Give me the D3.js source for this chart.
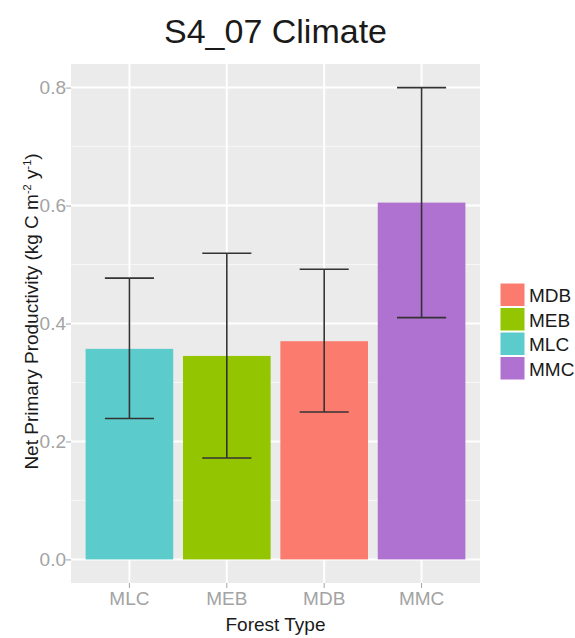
<!DOCTYPE html>
<html>
<head>
<meta charset="utf-8">
<script src="https://cdn.jsdelivr.net/npm/d3@7"></script>
<style>
  body { margin: 0; background: #fff; }
  svg { font-family: "Liberation Sans", Arial, sans-serif; }
  .tick-label { fill: #a3a3a3; font-size: 19px; }
  .axis-title { fill: #1a1a1a; font-size: 19px; }
</style>
</head>
<body>
<div class="container"></div>
<script>
// data
const categories = ["MLC", "MEB", "MDB", "MMC"];
const npp = [0.357, 0.345, 0.370, 0.605];
const errLow = [0.239, 0.172, 0.250, 0.410];
const errHigh = [0.477, 0.519, 0.492, 0.800];
const yTicks = [0.0, 0.2, 0.4, 0.6, 0.8];
const yMinor = [0.1, 0.3, 0.5, 0.7];
const legendOrder = ["MDB", "MEB", "MLC", "MMC"];
const colours = { MDB: "#fb7c6f", MEB: "#93c500", MLC: "#5bcbcb", MMC: "#b072d1" };

const width = 575, height = 638;
const plot = { left: 71, top: 64, right: 480, bottom: 583 };

const svg = d3.select(".container")
              .append("svg")
              .attr("width", width)
              .attr("height", height);

const xScale = d3.scaleBand()
                 .domain(categories)
                 .range([plot.left, plot.right])
                 .paddingInner(0.1)
                 .paddingOuter(0.15);

// ggplot style 5% expansion around 0..0.8
const yScale = d3.scaleLinear()
                 .domain([-0.04, 0.84])
                 .range([plot.bottom, plot.top]);

const xc = d => xScale(d) + xScale.bandwidth() / 2;

// panel
svg.append("rect")
   .attr("x", plot.left)
   .attr("y", plot.top)
   .attr("width", plot.right - plot.left)
   .attr("height", plot.bottom - plot.top)
   .attr("fill", "#ebebeb");

const grid = svg.append("g").attr("class", "grid");

grid.selectAll(".minor")
    .data(yMinor)
    .enter()
    .append("line")
    .attr("x1", plot.left).attr("x2", plot.right)
    .attr("y1", d => yScale(d)).attr("y2", d => yScale(d))
    .attr("stroke", "#f7f7f7")
    .attr("stroke-width", 1);

grid.selectAll(".major-y")
    .data(yTicks)
    .enter()
    .append("line")
    .attr("x1", plot.left).attr("x2", plot.right)
    .attr("y1", d => yScale(d)).attr("y2", d => yScale(d))
    .attr("stroke", "#fff")
    .attr("stroke-width", 2);

grid.selectAll(".major-x")
    .data(categories)
    .enter()
    .append("line")
    .attr("x1", xc).attr("x2", xc)
    .attr("y1", plot.top).attr("y2", plot.bottom)
    .attr("stroke", "#fff")
    .attr("stroke-width", 2);

// bars
svg.append("g")
   .selectAll("rect")
   .data(categories)
   .enter()
   .append("rect")
   .attr("x", d => xScale(d))
   .attr("width", xScale.bandwidth())
   .attr("y", (d, i) => yScale(npp[i]))
   .attr("height", (d, i) => yScale(0) - yScale(npp[i]))
   .attr("fill", d => colours[d]);

// error bars
const half = xScale.bandwidth() * 0.28;
const eb = svg.append("g")
              .attr("stroke", "#333")
              .attr("stroke-width", 1.6);

categories.forEach((c, i) => {
  eb.append("line")
    .attr("x1", xc(c)).attr("x2", xc(c))
    .attr("y1", yScale(errLow[i])).attr("y2", yScale(errHigh[i]));
  [errLow[i], errHigh[i]].forEach(v => {
    eb.append("line")
      .attr("x1", xc(c) - half).attr("x2", xc(c) + half)
      .attr("y1", yScale(v)).attr("y2", yScale(v));
  });
});

// axes
const yAxis = d3.axisLeft(yScale)
                .tickValues(yTicks)
                .tickFormat(d3.format(".1f"))
                .tickSize(5)
                .tickPadding(0);

svg.append("g")
   .attr("transform", `translate(${plot.left},0)`)
   .call(yAxis)
   .call(g => g.select(".domain").remove())
   .call(g => g.selectAll("line").attr("stroke", "#a3a3a3"))
   .call(g => g.selectAll("text").attr("class", "tick-label").attr("font-size", null).attr("font-family", null).attr("fill", null));

const xAxis = d3.axisBottom(xScale)
                .tickSize(5)
                .tickPadding(4);

svg.append("g")
   .attr("transform", `translate(0,${plot.bottom})`)
   .call(xAxis)
   .call(g => g.select(".domain").remove())
   .call(g => g.selectAll("line").attr("stroke", "#a3a3a3"))
   .call(g => g.selectAll("text").attr("class", "tick-label").attr("font-size", null).attr("font-family", null).attr("fill", null));

// titles
svg.append("text")
   .attr("x", (plot.left + plot.right) / 2)
   .attr("y", 43)
   .attr("text-anchor", "middle")
   .attr("fill", "#1a1a1a")
   .style("font-size", "34px")
   .text("S4_07 Climate");

svg.append("text")
   .attr("x", (plot.left + plot.right) / 2)
   .attr("y", 631)
   .attr("text-anchor", "middle")
   .attr("class", "axis-title")
   .text("Forest Type");

const yt = svg.append("text")
              .attr("class", "axis-title")
              .attr("text-anchor", "middle")
              .attr("transform", `translate(38,${(plot.top + plot.bottom) / 2 - 12}) rotate(-90)`);
yt.append("tspan").text("Net Primary Productivity (kg C m");
yt.append("tspan").attr("dy", -7).style("font-size", "11px").text("-2");
yt.append("tspan").attr("dy", 7).text(" y");
yt.append("tspan").attr("dy", -7).style("font-size", "11px").text("-1");
yt.append("tspan").attr("dy", 7).text(")");

// legend
const legend = svg.append("g")
                  .attr("transform", "translate(500,283)");

legendOrder.forEach((k, i) => {
  legend.append("rect")
        .attr("x", 0)
        .attr("y", i * 24.5)
        .attr("width", 25)
        .attr("height", 23.5)
        .attr("fill", colours[k])
        .attr("stroke", "#fff")
        .attr("stroke-width", 1);
  legend.append("text")
        .attr("x", 29)
        .attr("y", i * 24.5 + 19)
        .attr("fill", "#1a1a1a")
        .style("font-size", "19px")
        .text(k);
});
</script>
</body>
</html>
